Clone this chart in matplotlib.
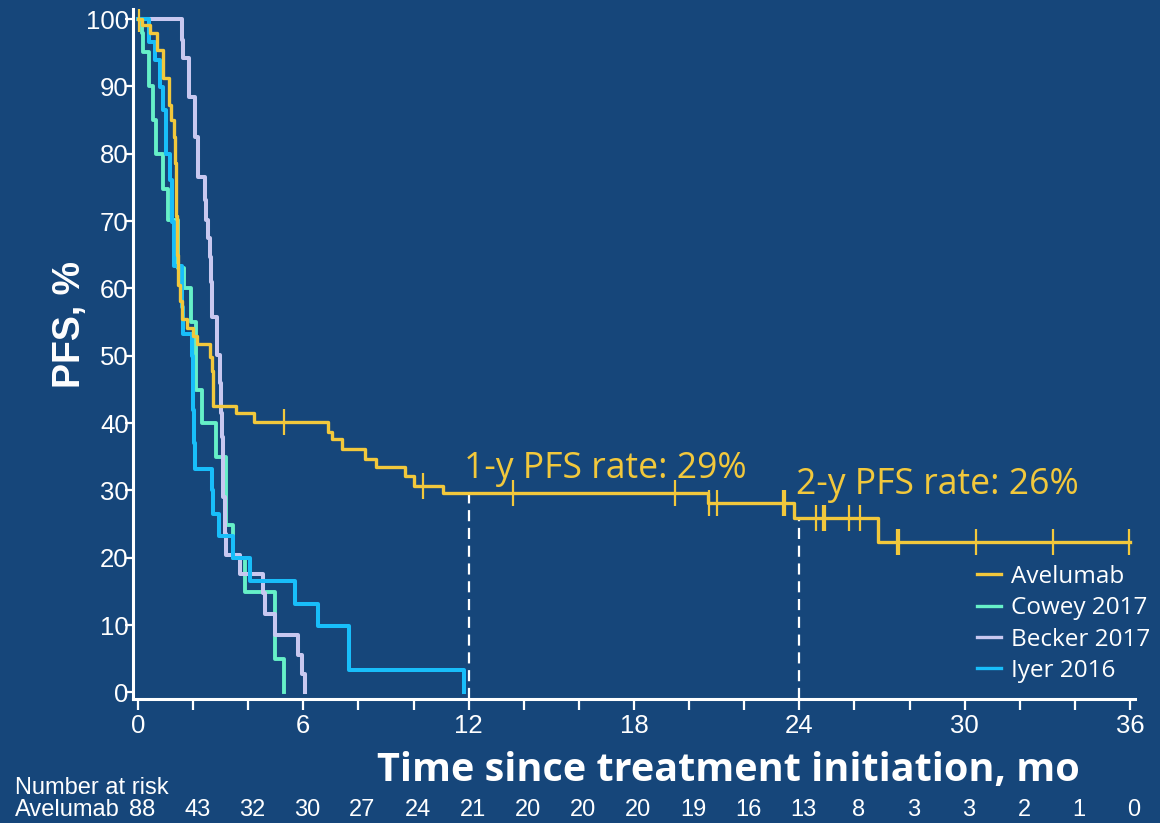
import numpy as np
import matplotlib.pyplot as plt
from matplotlib.lines import Line2D

# ---- data ----
# Avelumab (step curve, value holds from each time onward)
ave_t = [0, 0.15, 0.44, 0.69, 0.91, 1.12, 1.20, 1.29, 1.34, 1.38, 1.42, 1.46, 1.52, 1.59,
         1.77, 2.00, 2.14, 2.61, 2.67, 2.73, 3.56, 4.21, 6.89, 7.04, 7.40, 8.24, 8.64,
         9.69, 10.01, 11.07, 20.70, 23.80, 26.85, 36.0]
ave_s = [100, 99.1, 97.9, 95.4, 91.3, 87.2, 85.0, 82.5, 78.6, 70.8, 65.0, 60.5, 58.2, 55.5,
         54.2, 52.9, 51.8, 49.8, 47.8, 42.6, 41.5, 40.1, 38.7, 37.6, 36.1, 34.6, 33.5,
         32.2, 30.6, 29.6, 28.1, 25.9, 22.3, 22.3]
ave_cens = [0.05, 5.30, 10.34, 13.6, 19.5, 20.72, 21.0, 23.4, 23.47, 24.6, 24.85, 24.92,
            25.8, 26.2, 27.55, 27.62, 30.4, 33.2, 35.98]

# Cowey 2017
cow_t = [0, 0.13, 0.19, 0.41, 0.53, 0.65, 0.90, 1.10, 1.47, 1.66, 1.91, 2.10, 2.31, 2.83,
         3.19, 3.46, 3.88, 4.97, 5.30]
cow_s = [100, 98.0, 95.1, 90.0, 85.0, 80.0, 74.8, 70.1, 63.0, 60.0, 55.0, 44.9, 40.0, 35.0,
         24.8, 20.0, 14.9, 4.9, 0]

# Becker 2017
bec_t = [0, 1.59, 1.62, 1.85, 2.08, 2.18, 2.43, 2.47, 2.54, 2.61, 2.65, 2.67, 2.88, 2.98,
         3.00, 3.04, 3.10, 3.16, 3.20, 3.70, 4.55, 4.60, 4.97, 5.82, 5.94, 6.06]
bec_s = [100, 96.9, 94.2, 88.5, 82.5, 76.6, 73.1, 70.1, 67.5, 64.7, 61.0, 55.8, 50.1, 46.0,
         41.5, 38.0, 29.0, 23.6, 20.4, 17.6, 14.7, 11.7, 8.5, 5.5, 2.7, 0]

# Iyer 2016
iyr_t = [0, 0.41, 0.62, 0.80, 0.92, 1.00, 1.16, 1.23, 1.31, 1.59, 1.64, 1.95, 1.98, 2.00,
         2.03, 2.07, 2.67, 2.72, 2.95, 3.46, 4.06, 5.70, 6.53, 7.66, 11.83]
iyr_s = [100, 96.6, 93.9, 89.9, 86.5, 80.0, 76.1, 69.9, 63.3, 57.2, 53.3, 50.0, 46.4, 42.0,
         37.0, 33.2, 30.0, 26.5, 23.3, 19.9, 16.6, 13.2, 9.8, 3.4, 0]

# landmark rates
land_t = [12, 24]
land_txt = ["1-y PFS rate: 29%", "2-y PFS rate: 26%"]

# number at risk (every 2 months)
risk_t = list(range(0, 37, 2))
risk_n = [88, 43, 32, 30, 27, 24, 21, 20, 20, 20, 19, 16, 13, 8, 3, 3, 2, 1, 0]

BG = "#16467A"
YEL = "#F2C83C"
TEAL = "#66F0C8"
PURP = "#C8C8F0"
BLUE = "#18BEFA"
W = "white"


def step_value(t_list, s_list, t):
    idx = np.searchsorted(np.array(t_list), t, side="right") - 1
    return s_list[max(idx, 0)]


fig = plt.figure(figsize=(11.6, 8.23), dpi=100, facecolor=BG)
ax = fig.add_axes([133 / 1160, 124 / 823, 1002 / 1160, 690 / 823])
ax.set_facecolor(BG)

ax.step(cow_t, cow_s, where="post", color=TEAL, lw=2.8, zorder=3)
ax.step(bec_t, bec_s, where="post", color=PURP, lw=2.9, zorder=4)
ax.step(iyr_t, iyr_s, where="post", color=BLUE, lw=2.9, zorder=5)
ax.step(ave_t, ave_s, where="post", color=YEL, lw=2.4, zorder=6)

cens_y = [step_value(ave_t, ave_s, c) for c in ave_cens]
ax.plot(ave_cens, cens_y, ls="none", marker="|", ms=19, mew=1.6, color=YEL, zorder=6)

# landmark dashed lines + text
for t in land_t:
    v = step_value(ave_t, ave_s, t)
    ax.plot([t, t], [-1, v], color=W, lw=1.6, ls=(0, (5, 3)), zorder=2)
ax.text(11.82, 31.8, land_txt[0], color=YEL, fontsize=25.6, family="Open Sans",
        ha="left", va="baseline")
ax.text(23.88, 29.4, land_txt[1], color=YEL, fontsize=25.6, family="Open Sans",
        ha="left", va="baseline")

ax.set_xlim(-0.18, 36.18)
ax.set_ylim(-0.97, 101.5)

ax.set_xticks(risk_t)
ax.set_xticklabels([str(t) if t % 6 == 0 else "" for t in risk_t])
ax.set_yticks(range(0, 101, 10))
for lab in ax.get_xticklabels() + ax.get_yticklabels():
    lab.set_family("Liberation Sans")
    lab.set_fontsize(18.5)
    lab.set_color(W)
ax.tick_params(axis="x", length=8, width=1.6, color=W, pad=3)
ax.tick_params(axis="y", length=6, width=1.6, color=W, pad=-3)

for side in ["top", "right"]:
    ax.spines[side].set_visible(False)
for side in ["left", "bottom"]:
    ax.spines[side].set_color(W)
    ax.spines[side].set_linewidth(2.2)

# legend
handles = [Line2D([], [], color=c, lw=2.4) for c in (YEL, TEAL, PURP, BLUE)]
labels = ["Avelumab", "Cowey 2017", "Becker 2017", "Iyer 2016"]
leg = ax.legend(handles, labels, loc="upper left", bbox_to_anchor=(977 / 1160, 1 - 565 / 823),
                bbox_transform=fig.transFigure, frameon=False, borderaxespad=0, borderpad=0,
                handlelength=1.0, handletextpad=0.4, labelspacing=0.3,
                prop={"family": "Open Sans", "size": 17.5})
for txt in leg.get_texts():
    txt.set_color(W)

# axis titles
fig.text(728 / 1160, 1 - 771 / 823, "Time since treatment initiation, mo", color=W,
         fontsize=28.5, fontweight="bold", family="Open Sans", ha="center", va="center")
fig.text(70 / 1160, 1 - 325 / 823, "PFS, %", color=W, fontsize=27, fontweight="bold",
         family="Liberation Sans", rotation=90, ha="center", va="center")

# number at risk table
fig.text(15 / 1160, 1 - 788 / 823, "Number at risk", color=W, fontsize=17,
         family="Liberation Sans", ha="left", va="center")
fig.text(15 / 1160, 1 - 810 / 823, "Avelumab", color=W, fontsize=17,
         family="Liberation Sans", ha="left", va="center")
trans = ax.get_xaxis_transform()
for t, n in zip(risk_t, risk_n):
    ax.text(t + 0.15, (1 - 810 / 823 - 124 / 823) / (690 / 823), str(n), color=W,
            fontsize=17, family="Liberation Sans", ha="center", va="center",
            transform=trans, clip_on=False)

fig.savefig("out.png", dpi=100, facecolor=BG)
